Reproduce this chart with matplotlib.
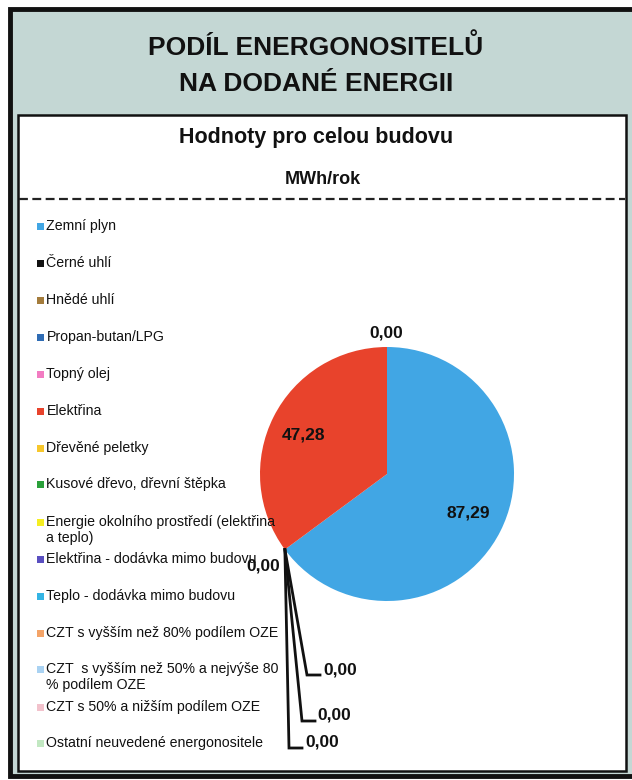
import matplotlib.pyplot as plt
import matplotlib.patches as mpatches
import numpy as np

plt.rcParams["font.family"] = ["Liberation Sans", "DejaVu Sans"]

categories = [
    "Zemní plyn",
    "Černé uhlí",
    "Hnědé uhlí",
    "Propan-butan/LPG",
    "Topný olej",
    "Elektřina",
    "Dřevěné peletky",
    "Kusové dřevo, dřevní štěpka",
    "Energie okolního prostředí (elektřina\na teplo)",
    "Elektřina - dodávka mimo budovu",
    "Teplo - dodávka mimo budovu",
    "CZT s vyšším než 80% podílem OZE",
    "CZT  s vyšším než 50% a nejvýše 80\n% podílem OZE",
    "CZT s 50% a nižším podílem OZE",
    "Ostatní neuvedené energonositele",
]
values = [87.29, 0, 0, 0, 0, 47.28, 0, 0, 0, 0, 0, 0, 0, 0, 0]
colors = [
    "#41a6e4", "#111111", "#a47c3c", "#2f6cb4", "#f27cc2",
    "#e8432c", "#f7c72c", "#2aa03a", "#f5ee22", "#5a4fc0",
    "#34b4e4", "#f4a468", "#a9d2f2", "#f2c2cc", "#c2e8c2",
]

title_lines = ["PODÍL ENERGONOSITELŮ", "NA DODANÉ ENERGII"]
subtitle = "Hodnoty pro celou budovu"
unit = "MWh/rok"


def fmt(v):
    return f"{v:.2f}".replace(".", ",")


fig = plt.figure(figsize=(6.32, 7.80), dpi=100)
ax = fig.add_axes([0, 0, 1, 1])

# frame: grey header box with white inner panel
ax.add_patch(mpatches.Rectangle((10, 9), 640, 767, facecolor="#c4d7d4",
                                edgecolor="#111111", linewidth=3.5))
ax.add_patch(mpatches.Rectangle((18, 115), 608, 656, facecolor="white",
                                edgecolor="#111111", linewidth=1.8))
ax.plot([19, 625], [199, 199], color="#222222", linewidth=1.6,
        linestyle=(0, (4, 2)))

ax.text(316, 47, title_lines[0], ha="center", va="center", fontsize=19,
        fontweight="bold", color="#111111")
ax.text(316, 84, title_lines[1], ha="center", va="center", fontsize=19,
        fontweight="bold", color="#111111")
ax.text(316, 137, subtitle, ha="center", va="center", fontsize=15.5,
        fontweight="bold", color="#111111")
ax.text(323, 180, unit, ha="center", va="center", fontsize=13,
        fontweight="bold", color="#111111")

# legend
legend_y = [226, 263, 300, 337, 374, 411, 448, 484, 522, 559,
            596, 633, 669, 707, 743]
for name, col, ly in zip(categories, colors, legend_y):
    ax.add_patch(mpatches.Rectangle((37, ly - 3), 6.5, 6.5, facecolor=col,
                                    edgecolor="none"))
    ax.text(46.5, ly - 7, name, ha="left", va="top", fontsize=10.2,
            color="#111111", linespacing=1.15)

# pie (y axis inverted, so counterclock=True draws clockwise on screen)
cx, cy, r = 387, 474, 127
ax.pie(values, colors=colors, startangle=-90, counterclock=True,
       center=(cx, cy), radius=r, frame=True,
       wedgeprops=dict(linewidth=0))

total = sum(values)
frac_gas = values[0] / total
ang = np.deg2rad(-90 + 360 * frac_gas)
ax_pt = (cx + r * np.cos(ang), cy + r * np.sin(ang))

lbl = dict(fontsize=12.5, fontweight="bold", color="#111111",
           ha="center", va="center")
ax.text(468, 513, fmt(values[0]), **lbl)
ax.text(304, 435, fmt(values[5]), **lbl)
ax.text(386, 333, fmt(values[14]), **lbl)
ax.text(263, 566, fmt(values[1]), **lbl)

# leader lines for zero slices
leaders = [((307, 675), (320, 675), (340, 670), values[2]),
           ((302, 721), (315, 721), (334, 715), values[3]),
           ((289, 748), (302, 748), (322, 742), values[4])]
for elbow, end, tpos, v in leaders:
    ax.plot([ax_pt[0], elbow[0], end[0]], [ax_pt[1], elbow[1], end[1]],
            color="#111111", linewidth=2.0, solid_joinstyle="miter")
    ax.text(tpos[0], tpos[1], fmt(v), **lbl)

ax.set_xlim(0, 632)
ax.set_ylim(780, 0)
ax.set_aspect("auto")
ax.axis("off")

fig.savefig("out.png", dpi=100, facecolor="white")
